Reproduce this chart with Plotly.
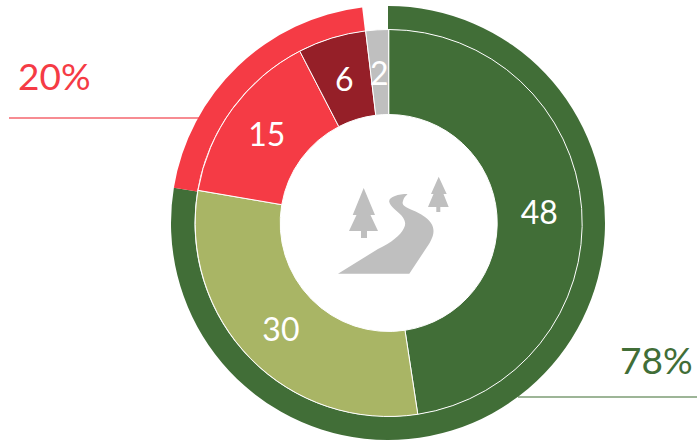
import math
import plotly.graph_objects as go

W, H = 697, 442
outer_labels = ["Green", "Red", "Gap"]
outer_values = [77.6, 20.5, 1.9]
outer_colors = ["#416E37", "#F53B45", "rgba(255,255,255,0)"]
inner_labels = ["A", "B", "C", "D", "E"]
inner_values = [47.6, 30.1, 14.7, 5.7, 1.9]
inner_colors = ["#416E37", "#A9B565", "#F53B45", "#951F28", "#BFBFBF"]
inner_text = ["48", "30", "15", "", ""]
small_labels = {3: "6", 4: "2"}

CX, CY, R_OUT = 388, 223, 217
ICX, R_IN, R_HOLE = 388.7, 193.5, 108.5

def dom(cx, cy, r):
    return dict(x=[(cx - r) / W, (cx + r) / W], y=[1 - (cy + r) / H, 1 - (cy - r) / H])

def px(x, y):
    return f"{x / W:.5f},{1 - y / H:.5f}"

def path(cmds):
    out = []
    for c, pts in cmds:
        out.append(c + " ".join(px(*p) for p in pts))
    return " ".join(out) + " Z"

def poly(pts):
    return path([("M", [pts[0]])] + [("L", [p]) for p in pts[1:]])

tree1 = [(363.7, 188), (375, 215), (370.5, 215), (378, 231), (367, 231), (367, 238), (361, 238),
         (361, 231), (349, 231), (356.5, 215), (352.7, 215)]
tree2 = [(438.7, 176.7), (446.7, 194), (443.5, 194), (448.7, 207), (440.3, 207), (440.3, 212),
         (436.3, 212), (436.3, 207), (428, 207), (433.5, 194), (431, 194)]
road = path([
    ("M", [(338, 273.7)]),
    ("L", [(409.3, 273.7)]),
    ("L", [(425, 250)]),
    ("C", [(432, 240), (440, 228), (425, 217)]),
    ("C", [(415, 209), (400, 208), (403, 201)]),
    ("C", [(404, 197), (406, 196), (407.5, 194)]),
    ("C", [(398, 194), (388, 197), (389.3, 202)]),
    ("C", [(391, 210), (410, 216), (404, 228)]),
    ("C", [(400, 236), (392, 242), (378, 249)]),
])

icon = "#BFBFBF"
shapes = [dict(type="path", xref="paper", yref="paper", path=p, fillcolor=icon, line_width=0, layer="above")
          for p in (poly(tree1), poly(tree2), road)]
shapes += [
    dict(type="line", xref="paper", yref="paper", x0=9 / W, x1=200 / W, y0=1 - 118 / H, y1=1 - 118 / H,
         line=dict(color="#F4666E", width=1.3), layer="below"),
    dict(type="line", xref="paper", yref="paper", x0=518 / W, x1=1, y0=1 - 397 / H, y1=1 - 397 / H,
         line=dict(color="#7C9C74", width=1.6), layer="below"),
]

annotations = [
    dict(text="20%", x=55 / W, y=1 - 75 / H, xref="paper", yref="paper", showarrow=False,
         xanchor="center", yanchor="middle", font=dict(family="Lato", size=37, color="#F53B45")),
    dict(text="78%", x=656 / W, y=1 - 359 / H, xref="paper", yref="paper", showarrow=False,
         xanchor="center", yanchor="middle", font=dict(family="Lato", size=37, color="#416E37")),
]
total = sum(inner_values)
r_mid = (R_IN + R_HOLE) / 2
for i, label in small_labels.items():
    mid = 2 * math.pi * (sum(inner_values[:i]) + inner_values[i] / 2) / total
    lx, ly = ICX + r_mid * math.sin(mid), CY - r_mid * math.cos(mid)
    annotations.append(dict(text=label, x=lx / W, y=1 - ly / H, xref="paper", yref="paper", showarrow=False,
                            xanchor="center", yanchor="middle",
                            font=dict(family="Lato", size=32, color="white")))

fig = go.Figure()
fig.add_trace(go.Pie(labels=outer_labels, values=outer_values, sort=False, direction="clockwise", rotation=0,
                     hole=R_IN / R_OUT, domain=dom(CX, CY, R_OUT), textinfo="none", hoverinfo="skip",
                     marker=dict(colors=outer_colors, line=dict(width=0)), showlegend=False))
fig.add_trace(go.Pie(labels=inner_labels, values=inner_values, sort=False, direction="clockwise", rotation=0,
                     hole=R_HOLE / R_IN, domain=dom(ICX, CY, R_IN), text=inner_text, textinfo="text",
                     textposition="inside", insidetextorientation="horizontal", hoverinfo="skip",
                     insidetextfont=dict(family="Lato", size=32, color="white"),
                     marker=dict(colors=inner_colors, line=dict(color="white", width=1)), showlegend=False))
fig.update_layout(
    width=W, height=H, margin=dict(l=0, r=0, t=0, b=0), paper_bgcolor="white", showlegend=False,
    shapes=shapes, annotations=annotations,
)
fig.write_html("out.html", config=dict(displayModeBar=False),
               post_script="document.body.style.margin='0';document.body.style.overflow='hidden';")
